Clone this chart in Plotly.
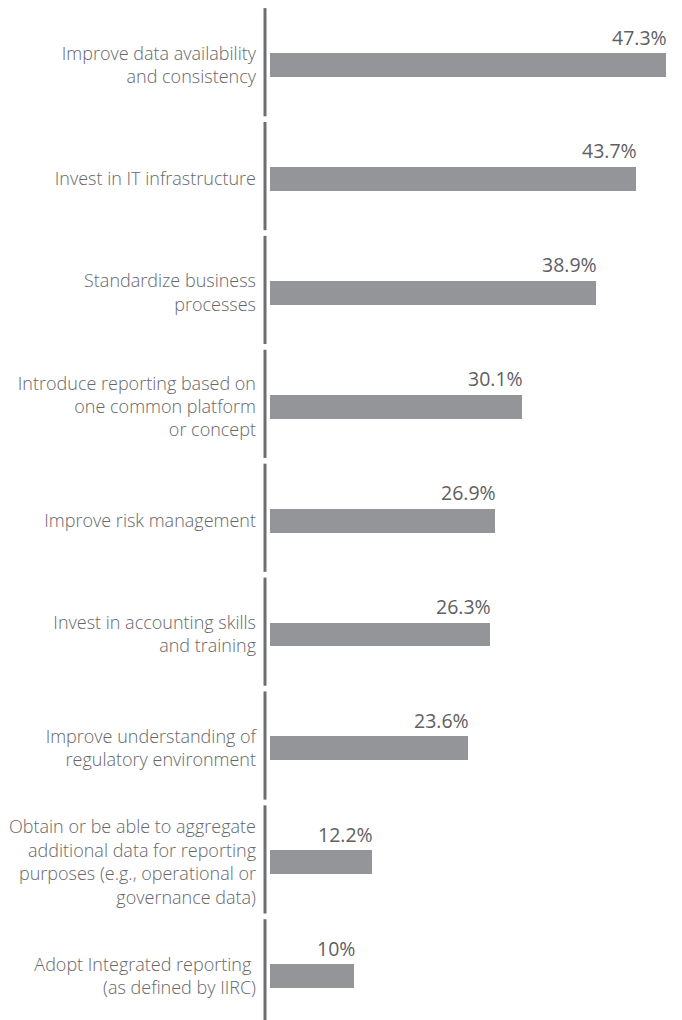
import plotly.graph_objects as go

categories = [
    "Improve data availability<br>and consistency",
    "Invest in IT infrastructure",
    "Standardize business<br>processes",
    "Introduce reporting based on<br>one common platform<br>or concept",
    "Improve risk management",
    "Invest in accounting skills<br>and training",
    "Improve understanding of<br>regulatory environment",
    "Obtain or be able to aggregate<br>additional data for reporting<br>purposes (e.g., operational or<br>governance data)",
    "Adopt Integrated reporting <br>(as defined by IIRC)",
]
values = [47.3, 43.7, 38.9, 30.1, 26.9, 26.3, 23.6, 12.2, 10]
value_labels = ["47.3%", "43.7%", "38.9%", "30.1%", "26.9%", "26.3%", "23.6%", "12.2%", "10%"]

BAR_COLOR = "#939598"
AXIS_COLOR = "#6d6e71"
LABEL_COLOR = "#666769"
VALUE_COLOR = "#5f6062"
FONT = "Open Sans"

pos = list(range(len(categories)))

fig = go.Figure(
    go.Bar(
        x=values,
        y=pos,
        orientation="h",
        width=0.21,
        marker=dict(color=BAR_COLOR, line=dict(width=0)),
        hoverinfo="skip",
    )
)

# value labels sitting above the right end of each bar
for p, v, t in zip(pos, values, value_labels):
    fig.add_annotation(
        x=v, y=p, text=t, showarrow=False,
        xanchor="right", yanchor="middle", yshift=28, xshift=3,
        font=dict(family=FONT, size=19.5, color=VALUE_COLOR),
    )

# broken vertical axis: one segment per category
for p in pos:
    fig.add_shape(
        type="line", xref="paper", yref="y",
        x0=-5 / 396, x1=-5 / 396, y0=p - 0.50, y1=p + 0.45,
        line=dict(color=AXIS_COLOR, width=3),
    )

fig.update_layout(
    width=682, height=1020,
    margin=dict(l=270, r=16, t=0, b=0),
    paper_bgcolor="white", plot_bgcolor="white",
    showlegend=False,
    bargap=0,
    xaxis=dict(range=[0, 47.3], visible=False),
    yaxis=dict(
        range=[8.385, -0.571],
        tickvals=pos, ticktext=categories,
        ticks="", showline=False, showgrid=False, zeroline=False,
        ticklabelstandoff=13,
        tickfont=dict(family=FONT, size=18, color=LABEL_COLOR, weight=300),
    ),
)

fig.write_html("out.html")
